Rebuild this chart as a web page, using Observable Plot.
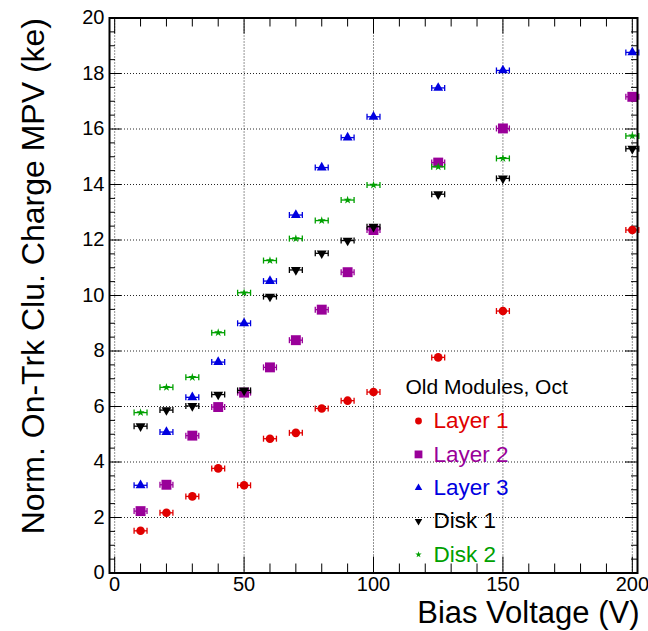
<!DOCTYPE html>
<html>
<head>
<meta charset="utf-8">
<script src="https://cdn.jsdelivr.net/npm/d3@7"></script>
<script src="https://cdn.jsdelivr.net/npm/@observablehq/plot@0.6"></script>
<style>
  html, body { margin: 0; padding: 0; background: #fff; }
  #chart { width: 648px; height: 631px; }
</style>
</head>
<body>
<div id="chart"></div>
<script>
// ---- data ----
const volts = [10, 20, 30, 40, 50, 60, 70, 80, 90, 100, 125, 150, 200];
const layer1 = [1.52, 2.17, 2.76, 3.77, 3.16, 4.84, 5.05, 5.93, 6.21, 6.52, 7.77, 9.44, 12.36];
const layer2 = [2.23, 3.18, 4.95, 5.98, 6.50, 7.41, 8.39, 9.49, 10.84, 12.36, 14.79, 16.02, 17.16];
const layer3 = [3.16, 5.08, 6.33, 7.60, 9.00, 10.52, 12.90, 14.61, 15.69, 16.44, 17.48, 18.11, 18.76];
const disk1  = [5.29, 5.87, 6.02, 6.43, 6.58, 9.96, 10.92, 11.52, 11.98, 12.48, 13.65, 14.22, 15.29];
const disk2  = [5.78, 6.69, 7.05, 8.66, 10.10, 11.26, 12.05, 12.70, 13.44, 13.98, 14.64, 14.94, 15.75];
const voltErr = 2.5; // horizontal error (V)

const seriesNames = ["Layer 1", "Layer 2", "Layer 3", "Disk 1", "Disk 2"];
const seriesValues = [layer1, layer2, layer3, disk1, disk2];
const legendTitle = "Old Modules, Oct";

const xTickLabels = [0, 50, 100, 150, 200];
const yTickLabels = [0, 2, 4, 6, 8, 10, 12, 14, 16, 18, 20];
const xMinorTicks = d3.range(0, 201, 10).filter(v => v % 50 !== 0);
const yMinorTicks = d3.range(0, 20.01, 0.5).filter(v => v % 2 !== 0);

const xTitle = "Bias Voltage (V)";
const yTitle = "Norm. On-Trk Clu. Charge MPV (ke)";

// ---- styles ----
const triangleDown = {
  draw(context, size) {
    const y = -Math.sqrt(size / (Math.sqrt(3) * 3));
    context.moveTo(0, -y * 2);
    context.lineTo(-Math.sqrt(3) * y, y);
    context.lineTo(Math.sqrt(3) * y, y);
    context.closePath();
  }
};
const capSymbol = {
  draw(context, size) {
    const h = Math.sqrt(size / Math.PI);
    context.moveTo(0, -h);
    context.lineTo(0, h);
  }
};
const seriesColors = ["#e00000", "#990099", "#0000e0", "#000000", "#00a000"];
const seriesSymbols = ["circle", "square", "triangle", triangleDown, "star"];
const seriesR = [4.3, 5.6, 3.7, 3.7, 2.6];
const legendR = [3.4, 4.4, 2.8, 2.8, 2.0];

const W = 648, H = 631;
const mL = 109, mR = 11, mT = 17.5, mB = 58.5;
const frameW = W - mL - mR, frameH = H - mT - mB;
const font = "'Liberation Sans', Arial, Helvetica, sans-serif";

const marks = [];
// grid
marks.push(Plot.ruleX(xTickLabels, {x: d => d, stroke: "#000", strokeWidth: 1, strokeDasharray: "1,2", strokeOpacity: 0.85}));
marks.push(Plot.ruleY(yTickLabels, {y: d => d, stroke: "#000", strokeWidth: 1, strokeDasharray: "1,2", strokeOpacity: 0.85}));
// inward ticks
const tk = {stroke: "#000", strokeWidth: 1};
marks.push(Plot.tickX(xTickLabels, {x: d => d, insetTop: frameH - 16, ...tk}));
marks.push(Plot.tickX(xMinorTicks, {x: d => d, insetTop: frameH - 9, ...tk}));
marks.push(Plot.tickX(xTickLabels, {x: d => d, insetBottom: frameH - 16, ...tk}));
marks.push(Plot.tickX(xMinorTicks, {x: d => d, insetBottom: frameH - 9, ...tk}));
marks.push(Plot.tickY(yTickLabels, {y: d => d, insetRight: frameW - 12, ...tk}));
marks.push(Plot.tickY(yMinorTicks, {y: d => d, insetRight: frameW - 6, ...tk}));
marks.push(Plot.tickY(yTickLabels, {y: d => d, insetLeft: frameW - 12, ...tk}));
marks.push(Plot.tickY(yMinorTicks, {y: d => d, insetLeft: frameW - 6, ...tk}));

// data
seriesValues.forEach((vals, s) => {
  const rows = vals.map((v, i) => ({x: volts[i], y: v}));
  const color = seriesColors[s];
  marks.push(Plot.link(rows, {x1: d => d.x - voltErr, x2: d => d.x + voltErr, y1: "y", y2: "y", stroke: color, strokeWidth: 1.3}));
  marks.push(Plot.dot(rows, {x: d => d.x - voltErr, y: "y", symbol: capSymbol, r: 3, fill: "none", stroke: color, strokeWidth: 1.3}));
  marks.push(Plot.dot(rows, {x: d => d.x + voltErr, y: "y", symbol: capSymbol, r: 3, fill: "none", stroke: color, strokeWidth: 1.3}));
  marks.push(Plot.dot(rows, {x: "x", y: "y", symbol: seriesSymbols[s], r: seriesR[s], fill: color, stroke: "none"}));
});

// legend
marks.push(Plot.text([legendTitle], {frameAnchor: "top-left", dx: 296, dy: 369.5, text: d => d, fill: "#000", fontSize: 21, textAnchor: "start", lineAnchor: "middle", fontFamily: font}));
seriesNames.forEach((name, s) => {
  const dy = 403 + 33.4 * s;
  marks.push(Plot.dot([name], {frameAnchor: "top-left", dx: 309, dy, symbol: seriesSymbols[s], r: legendR[s], fill: seriesColors[s], stroke: "none"}));
  marks.push(Plot.text([name], {frameAnchor: "top-left", dx: 324, dy, text: d => d, fill: seriesColors[s], fontSize: 22.5, textAnchor: "start", lineAnchor: "middle", fontFamily: font}));
});

// axes
marks.push(Plot.axisX(xTickLabels, {tickSize: 0, tickPadding: 4, label: null, fontSize: 20}));
marks.push(Plot.axisY(yTickLabels, {tickSize: 0, tickPadding: 5, label: null, fontSize: 20}));
// titles
marks.push(Plot.text([xTitle], {frameAnchor: "bottom-right", dx: 2, dy: 50, text: d => d, fontSize: 31, textAnchor: "end", lineAnchor: "bottom", fill: "#000", fontFamily: font}));
marks.push(Plot.text([yTitle], {frameAnchor: "top-left", dx: -66, dy: 0, rotate: -90, text: d => d, fontSize: 32, textAnchor: "end", lineAnchor: "bottom", fill: "#000", fontFamily: font}));
// frame
marks.push(Plot.frame({stroke: "#000", strokeWidth: 2}));

const chart = Plot.plot({
  width: W,
  height: H,
  marginLeft: mL,
  marginRight: mR,
  marginTop: mT,
  marginBottom: mB,
  x: {domain: [-2, 202]},
  y: {domain: [0, 20]},
  style: {fontFamily: font, fontSize: "20px", background: "#fff", color: "#000"},
  marks
});
document.getElementById("chart").appendChild(chart);
</script>
</body>
</html>
